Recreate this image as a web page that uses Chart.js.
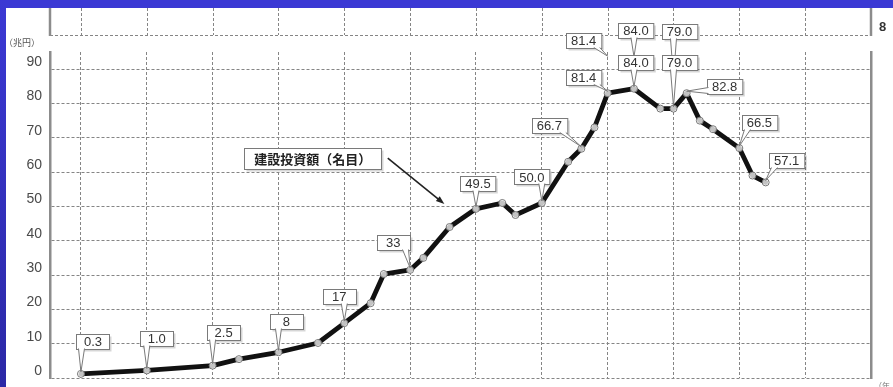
<!DOCTYPE html>
<html>
<head>
<meta charset="utf-8">
<script src="https://cdn.jsdelivr.net/npm/chart.js@4.4.1/dist/chart.umd.min.js"></script>
<style>
  html, body { margin: 0; padding: 0; background: #fff; overflow: hidden; }
  canvas { display: block; }
</style>
</head>
<body>
<canvas id="investChart" width="893" height="387"></canvas>
<script>
// construction investment (nominal), trillion yen
const years = [1950, 1955, 1960, 1962, 1965, 1968, 1970, 1972, 1973, 1975, 1976, 1978, 1980, 1982, 1983,
  1985, 1987, 1988, 1989, 1990, 1992, 1994, 1995, 1996, 1997, 1998, 2000, 2001, 2002];
const investment = [1.2, 2.2, 3.6, 5.5, 7.5, 10.2, 16, 21.8, 30.3, 31.5, 35, 44, 49.3, 51, 47.5,
  51, 63, 66.8, 73, 83, 84.3, 78.5, 78.5, 83, 75, 72.5, 67, 59, 57];
const calloutText = ['0.3', '1.0', '2.5', null, '8', null, '17', null, null, '33', null, null, '49.5', null, null,
  '50.0', null, '66.7', null, '81.4', '84.0', null, '79.0', '82.8', null, null, '66.5', null, '57.1'];
const yTicks = [0, 10, 20, 30, 40, 50, 60, 70, 80, 90];
const xGridYears = [1950, 1955, 1960, 1965, 1970, 1975, 1980, 1985, 1990, 1995, 2000, 2005, 2010];
const seriesName = '建設投資額（名目）';
const unitLabel = '（兆円）';

// where each callout box sits, px offset of its centre from the point
const calloutOffset = {
  1950: [12, -32], 1955: [10, -32], 1960: [11, -33], 1965: [8, -31], 1970: [-5, -27],
  1975: [-17, -27], 1980: [2, -25], 1985: [-10, -26], 1988: [-32, -23], 1990: [-24, -16],
  1992: [2, -26], 1995: [6, -46], 1996: [38, -7], 2000: [20, -26], 2002: [21, -22]
};
// the scan has a shifted copy of a few boxes near the top
const ghostShift = { 1990: -37, 1992: -32, 1995: -31 };

const GRID = '#858585';
const AXIS = '#8c8c8c';
const NUM_FONT = '"Liberation Sans", Arial, sans-serif';

function clamp(v, lo, hi) { return Math.max(lo, Math.min(hi, v)); }

function drawCallout(ctx, px, py, cx, cy, text) {
  ctx.font = '13px ' + NUM_FONT;
  const w = Math.max(33, ctx.measureText(text).width + 10), h = 15;
  const l = Math.round(cx - w / 2) + 0.5, t = Math.round(cy - h / 2) + 0.5;
  const r = l + w, b = t + h;
  ctx.fillStyle = 'rgba(0,0,0,0.16)';
  ctx.fillRect(l + 2, t + 2, w, h);
  ctx.fillStyle = '#fff';
  ctx.fillRect(l, t, w, h);
  ctx.strokeStyle = '#7a7a7a';
  ctx.lineWidth = 1;
  ctx.strokeRect(l, t, w, h);

  let b1, b2;
  if (py > b) {
    const bx = clamp(px, l + 5, r - 5);
    b1 = [bx - 3, b - 1]; b2 = [bx + 3, b - 1];
  } else if (px < l) {
    const by = clamp(py, t + 4, b - 4);
    b1 = [l + 1, by - 3]; b2 = [l + 1, by + 3];
  } else {
    const by = clamp(py, t + 4, b - 4);
    b1 = [r - 1, by - 3]; b2 = [r - 1, by + 3];
  }
  ctx.beginPath();
  ctx.moveTo(b1[0], b1[1]); ctx.lineTo(px, py); ctx.lineTo(b2[0], b2[1]); ctx.closePath();
  ctx.fillStyle = '#fff';
  ctx.fill();
  ctx.beginPath();
  ctx.moveTo(b1[0], b1[1]); ctx.lineTo(px, py); ctx.lineTo(b2[0], b2[1]);
  ctx.stroke();

  ctx.fillStyle = '#333';
  ctx.textAlign = 'center';
  ctx.textBaseline = 'middle';
  ctx.fillText(text, cx, cy + 1);
}

const framePlugin = {
  id: 'frame',
  beforeDraw(chart) {
    const { ctx, width, height } = chart;
    const x = chart.scales.x;
    const area = chart.chartArea;
    ctx.save();
    ctx.fillStyle = '#fff';
    ctx.fillRect(0, 0, width, height);

    // cut-off panel above the chart
    ctx.strokeStyle = GRID;
    ctx.lineWidth = 1;
    ctx.setLineDash([3, 2]);
    xGridYears.slice(0, -1).forEach(v => {
      const px = Math.round(x.getPixelForValue(v)) + 0.5;
      ctx.beginPath(); ctx.moveTo(px, 8); ctx.lineTo(px, 35); ctx.stroke();
    });
    ctx.beginPath(); ctx.moveTo(area.left, 35.5); ctx.lineTo(area.right, 35.5); ctx.stroke();
    ctx.setLineDash([]);
    ctx.strokeStyle = AXIS;
    ctx.lineWidth = 2.5;
    ctx.beginPath(); ctx.moveTo(area.left, 8); ctx.lineTo(area.left, 36); ctx.stroke();
    ctx.beginPath(); ctx.moveTo(area.right, 8); ctx.lineTo(area.right, 36); ctx.stroke();

    ctx.fillStyle = '#333';
    ctx.font = 'bold 13px ' + NUM_FONT;
    ctx.textAlign = 'left';
    ctx.textBaseline = 'middle';
    ctx.fillText('8', 879, 27);

    ctx.fillStyle = '#555';
    ctx.font = '9px "Noto Sans CJK JP", sans-serif';
    ctx.textAlign = 'left';
    ctx.fillText(unitLabel, 4, 43);
    ctx.restore();
  },
  afterDatasetsDraw(chart) {
    const { ctx } = chart;
    const x = chart.scales.x, y = chart.scales.y;
    ctx.save();

    // ghost copies first, real boxes over them
    years.forEach((yr, i) => {
      if (ghostShift[yr] === undefined) return;
      const px = x.getPixelForValue(yr), py = y.getPixelForValue(investment[i]) + ghostShift[yr];
      const off = calloutOffset[yr];
      drawCallout(ctx, px, py, px + off[0], py + off[1], calloutText[i]);
    });
    years.forEach((yr, i) => {
      if (!calloutText[i]) return;
      const px = x.getPixelForValue(yr), py = y.getPixelForValue(investment[i]);
      const off = calloutOffset[yr];
      drawCallout(ctx, px, py - 2, px + off[0], py + off[1], calloutText[i]);
    });

    // series name box with arrow
    const cx = x.getPixelForValue(1967.6), cy = y.getPixelForValue(64);
    const bw = 137, bh = 21;
    const l = Math.round(cx - bw / 2) + 0.5, t = Math.round(cy - bh / 2) + 0.5;
    ctx.fillStyle = 'rgba(0,0,0,0.16)';
    ctx.fillRect(l + 2, t + 2, bw, bh);
    ctx.fillStyle = '#fff';
    ctx.fillRect(l, t, bw, bh);
    ctx.strokeStyle = '#7a7a7a';
    ctx.lineWidth = 1;
    ctx.strokeRect(l, t, bw, bh);
    ctx.fillStyle = '#222';
    ctx.font = 'bold 13px "Noto Sans CJK JP", sans-serif';
    ctx.textAlign = 'center';
    ctx.textBaseline = 'middle';
    ctx.fillText(seriesName, cx, cy + 1);

    const ax0 = x.getPixelForValue(1973.3), ay0 = y.getPixelForValue(64.1);
    const ax1 = x.getPixelForValue(1977.6), ay1 = y.getPixelForValue(50.7);
    const ang = Math.atan2(ay1 - ay0, ax1 - ax0);
    ctx.strokeStyle = '#222';
    ctx.lineWidth = 1.6;
    ctx.beginPath(); ctx.moveTo(ax0, ay0); ctx.lineTo(ax1 - 5 * Math.cos(ang), ay1 - 5 * Math.sin(ang)); ctx.stroke();
    ctx.fillStyle = '#222';
    ctx.beginPath();
    ctx.moveTo(ax1, ay1);
    ctx.lineTo(ax1 - 9 * Math.cos(ang - 0.35), ay1 - 9 * Math.sin(ang - 0.35));
    ctx.lineTo(ax1 - 9 * Math.cos(ang + 0.35), ay1 - 9 * Math.sin(ang + 0.35));
    ctx.closePath();
    ctx.fill();
    ctx.restore();
  },
  afterDraw(chart) {
    const { ctx, height, width } = chart;
    ctx.save();
    ctx.fillStyle = '#3b39d4';
    ctx.fillRect(0, 0, width, 8);
    const g = ctx.createLinearGradient(0, 0, 0, height);
    g.addColorStop(0, '#3b39d4');
    g.addColorStop(1, '#2b28a6');
    ctx.fillStyle = g;
    ctx.fillRect(0, 0, 6, height);
    ctx.fillStyle = '#777';
    ctx.font = '8px "Noto Sans CJK JP", sans-serif';
    ctx.textAlign = 'left';
    ctx.textBaseline = 'alphabetic';
    ctx.fillText('（年', 874, 389);
    ctx.restore();
  }
};

new Chart(document.getElementById('investChart'), {
  type: 'line',
  data: {
    datasets: [{
      label: seriesName,
      data: years.map((yr, i) => ({ x: yr, y: investment[i] })),
      borderColor: '#111',
      borderWidth: 4.8,
      borderJoinStyle: 'round',
      borderCapStyle: 'round',
      tension: 0,
      pointRadius: 3.5,
      pointBackgroundColor: 'rgba(255,255,255,0.75)',
      pointBorderColor: '#777',
      pointBorderWidth: 1
    }]
  },
  options: {
    responsive: false,
    animation: false,
    layout: { autoPadding: false, padding: { top: 52, right: 22, bottom: 9, left: 0 } },
    plugins: { legend: { display: false }, tooltip: { enabled: false } },
    scales: {
      x: {
        type: 'linear',
        min: 1947.65,
        max: 2010,
        afterBuildTicks: scale => { scale.ticks = xGridYears.map(v => ({ value: v })); },
        ticks: { display: false },
        grid: { color: GRID, lineWidth: 1, drawTicks: false },
        border: { display: false, dash: [3, 2] }
      },
      y: {
        min: 0,
        max: 95,
        afterBuildTicks: scale => { scale.ticks = yTicks.map(v => ({ value: v })); },
        afterFit: scale => {
          scale.width = 50;
          scale.paddingTop = 0;
          scale.paddingBottom = 0;
        },
        ticks: {
          color: '#4a4a4a',
          font: { family: NUM_FONT, size: 14 },
          padding: 8,
          labelOffset: -7
        },
        grid: { color: GRID, lineWidth: 1, drawTicks: false },
        border: { display: true, color: AXIS, width: 2.5, dash: [3, 2] }
      },
      y2: {
        position: 'right',
        min: 0,
        max: 95,
        ticks: { display: false },
        grid: { display: false, drawTicks: false },
        border: { display: true, color: AXIS, width: 2.5 }
      }
    }
  },
  plugins: [framePlugin]
});
</script>
</body>
</html>
